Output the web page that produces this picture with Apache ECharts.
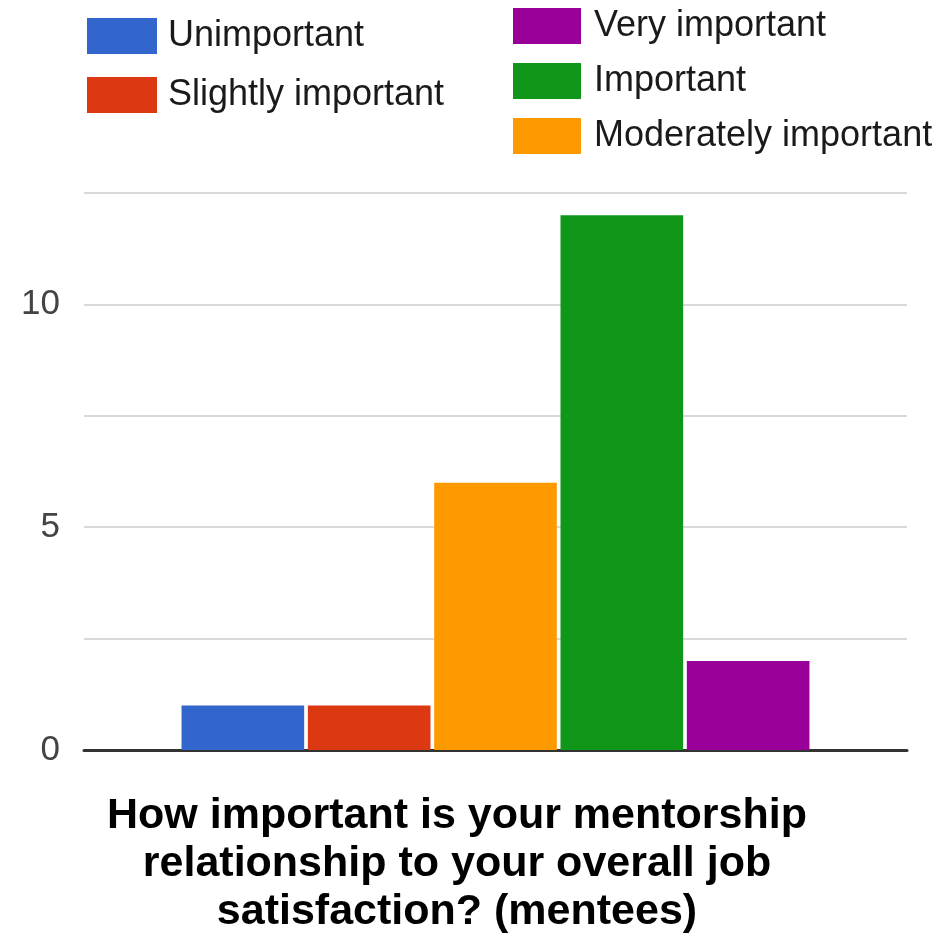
<!DOCTYPE html>
<html>
<head>
<meta charset="utf-8">
<script src="https://cdn.jsdelivr.net/npm/echarts@6/dist/echarts.min.js"></script>
<style>
  html, body { margin: 0; padding: 0; background: #fff; }
  #main { width: 951px; height: 936px; }
</style>
</head>
<body>
<div id="main"></div>
<script>
  // data
  let categories = [''];
  let seriesNames = ['Unimportant', 'Slightly important', 'Moderately important', 'Important', 'Very important'];
  let seriesValues = [1, 1, 6, 12, 2];
  let yTicks = [0, 5, 10];
  let chartTitle = 'How important is your mentorship\nrelationship to your overall job\nsatisfaction? (mentees)';

  // google chart palette
  let colors = ['#3366cc', '#dc3912', '#ff9900', '#109618', '#990099'];

  let chart = echarts.init(document.getElementById('main'));

  let series = seriesNames.map(function (name, i) {
    return {
      name: name,
      type: 'bar',
      data: [seriesValues[i]],
      barGap: '3%',
      barCategoryGap: '23.7%',
      itemStyle: { color: colors[i] }
    };
  });

  let option = {
    animation: false,
    color: colors,
    title: {
      text: chartTitle,
      left: 452,
      top: 787,
      textAlign: 'center',
      textStyle: {
        fontFamily: 'Liberation Sans, Arial, sans-serif',
        fontSize: 43,
        fontWeight: 'bold',
        lineHeight: 48,
        color: '#000'
      }
    },
    legend: [{
      data: ['Unimportant', 'Slightly important'],
      orient: 'vertical',
      left: 82,
      top: 13,
      icon: 'rect',
      itemWidth: 70,
      itemHeight: 36,
      itemGap: 23,
      textStyle: { fontFamily: 'Liberation Sans, Arial, sans-serif', fontSize: 36, color: '#1a1a1a', padding: [0, 0, 0, 6] }
    }, {
      data: ['Very important', 'Important', 'Moderately important'],
      orient: 'vertical',
      left: 508,
      top: 3,
      icon: 'rect',
      itemWidth: 68,
      itemHeight: 36,
      itemGap: 19,
      textStyle: { fontFamily: 'Liberation Sans, Arial, sans-serif', fontSize: 36, color: '#1a1a1a', padding: [0, 0, 0, 8] }
    }],
    grid: {
      left: 84,
      right: 44,
      top: 193,
      bottom: 186,
      containLabel: false
    },
    xAxis: {
      type: 'category',
      data: categories,
      axisTick: { show: false },
      axisLabel: { show: false },
      axisLine: { lineStyle: { color: '#333', width: 3 } }
    },
    yAxis: {
      type: 'value',
      min: 0,
      max: 12.5,
      interval: 2.5,
      axisLine: { show: false },
      axisTick: { show: false },
      axisLabel: {
        margin: 24,
        fontFamily: 'Liberation Sans, Arial, sans-serif',
        fontSize: 35,
        color: '#444',
        formatter: function (v) {
          return yTicks.indexOf(v) >= 0 ? String(v) : '';
        }
      },
      splitLine: { lineStyle: { color: '#d9d9d9', width: 2 } }
    },
    series: series
  };

  chart.setOption(option);
</script>
</body>
</html>
